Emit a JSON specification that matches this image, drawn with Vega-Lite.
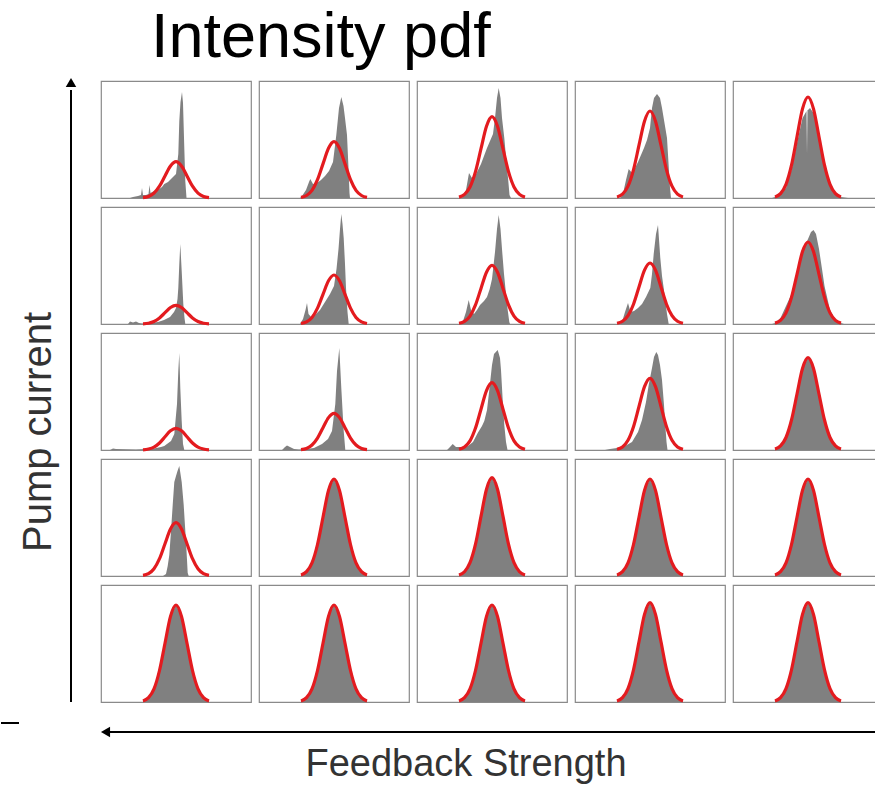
{
"$schema": "https://vega.github.io/schema/vega-lite/v6.json",
"padding": {"top": 6, "left": 0, "right": 0, "bottom": 0},
"background": "white",
"title": {"text": "Intensity pdf", "font": "Liberation Sans", "fontSize": 63, "fontWeight": "normal", "color": "#000000", "anchor": "start", "dx": 151, "offset": 8},
"config": {"view": {"stroke": "#8a8a8a", "strokeWidth": 1.2}},
"spacing": 4,
"vconcat": [
{"hconcat": [
{"width": 90, "height": 621, "view": {"stroke": null},
 "data": {"values": [{"axis": "Pump current"}]},
 "layer": [
  {"mark": {"type": "rule", "color": "#000000", "strokeWidth": 2},
   "encoding": {"x": {"datum": 70, "type": "quantitative", "scale": {"domain": [0, 90], "nice": false, "zero": false}, "axis": null},
                "y": {"datum": 0, "type": "quantitative", "scale": {"domain": [0, 621], "nice": false, "zero": false}, "axis": null},
                "y2": {"datum": 612}}},
  {"mark": {"type": "point", "shape": "triangle-up", "filled": true, "size": 110, "color": "#000000", "opacity": 1},
   "encoding": {"x": {"datum": 70, "type": "quantitative"}, "y": {"datum": 619.5, "type": "quantitative"}}},
  {"mark": {"type": "text", "angle": 270, "align": "center", "baseline": "alphabetic", "font": "Liberation Sans", "fontSize": 40, "color": "#333333"},
   "encoding": {"x": {"datum": 50, "type": "quantitative"}, "y": {"datum": 270, "type": "quantitative"}, "text": {"field": "axis"}}}
 ]},
{"data": {"values": [
{"pump":5,"fb":5,"x":-33,"fit":0.4},{"pump":5,"fb":5,"x":-27.5,"fit":1.6},{"pump":5,"fb":5,"x":-22,"fit":4.9},{"pump":5,"fb":5,"x":-16.5,"fit":11.8},{"pump":5,"fb":5,"x":-11,"fit":22.0},{"pump":5,"fb":5,"x":-5.5,"fit":32.0},{"pump":5,"fb":5,"x":0,"fit":36.3},{"pump":5,"fb":5,"x":5.5,"fit":32.0},{"pump":5,"fb":5,"x":11,"fit":22.0},{"pump":5,"fb":5,"x":16.5,"fit":11.8},{"pump":5,"fb":5,"x":22,"fit":4.9},{"pump":5,"fb":5,"x":27.5,"fit":1.6},{"pump":5,"fb":5,"x":33,"fit":0.4},
{"pump":5,"fb":4,"x":-33,"fit":0.6},{"pump":5,"fb":4,"x":-27.5,"fit":2.5},{"pump":5,"fb":4,"x":-22,"fit":7.6},{"pump":5,"fb":4,"x":-16.5,"fit":18.3},{"pump":5,"fb":4,"x":-11,"fit":34.1},{"pump":5,"fb":4,"x":-5.5,"fit":49.7},{"pump":5,"fb":4,"x":0,"fit":56.3},{"pump":5,"fb":4,"x":5.5,"fit":49.7},{"pump":5,"fb":4,"x":11,"fit":34.1},{"pump":5,"fb":4,"x":16.5,"fit":18.3},{"pump":5,"fb":4,"x":22,"fit":7.6},{"pump":5,"fb":4,"x":27.5,"fit":2.5},{"pump":5,"fb":4,"x":33,"fit":0.6},
{"pump":5,"fb":3,"x":-33,"fit":0.9},{"pump":5,"fb":3,"x":-27.5,"fit":3.6},{"pump":5,"fb":3,"x":-22,"fit":11.0},{"pump":5,"fb":3,"x":-16.5,"fit":26.4},{"pump":5,"fb":3,"x":-11,"fit":49.3},{"pump":5,"fb":3,"x":-5.5,"fit":71.7},{"pump":5,"fb":3,"x":0,"fit":81.3},{"pump":5,"fb":3,"x":5.5,"fit":71.7},{"pump":5,"fb":3,"x":11,"fit":49.3},{"pump":5,"fb":3,"x":16.5,"fit":26.4},{"pump":5,"fb":3,"x":22,"fit":11.0},{"pump":5,"fb":3,"x":27.5,"fit":3.6},{"pump":5,"fb":3,"x":33,"fit":0.9},
{"pump":5,"fb":2,"x":-33,"fit":1.0},{"pump":5,"fb":2,"x":-27.5,"fit":3.8},{"pump":5,"fb":2,"x":-22,"fit":11.8},{"pump":5,"fb":2,"x":-16.5,"fit":28.2},{"pump":5,"fb":2,"x":-11,"fit":52.8},{"pump":5,"fb":2,"x":-5.5,"fit":76.8},{"pump":5,"fb":2,"x":0,"fit":87},{"pump":5,"fb":2,"x":5.5,"fit":76.8},{"pump":5,"fb":2,"x":11,"fit":52.8},{"pump":5,"fb":2,"x":16.5,"fit":28.2},{"pump":5,"fb":2,"x":22,"fit":11.8},{"pump":5,"fb":2,"x":27.5,"fit":3.8},{"pump":5,"fb":2,"x":33,"fit":1.0},
{"pump":5,"fb":1,"x":-33,"fit":1.1},{"pump":5,"fb":1,"x":-27.5,"fit":4.4},{"pump":5,"fb":1,"x":-22,"fit":13.7},{"pump":5,"fb":1,"x":-16.5,"fit":32.8},{"pump":5,"fb":1,"x":-11,"fit":61.3},{"pump":5,"fb":1,"x":-5.5,"fit":89.1},{"pump":5,"fb":1,"x":0,"fit":101},{"pump":5,"fb":1,"x":5.5,"fit":89.1},{"pump":5,"fb":1,"x":11,"fit":61.3},{"pump":5,"fb":1,"x":16.5,"fit":32.8},{"pump":5,"fb":1,"x":22,"fit":13.7},{"pump":5,"fb":1,"x":27.5,"fit":4.4},{"pump":5,"fb":1,"x":33,"fit":1.1},
{"pump":4,"fb":5,"x":-33,"fit":0.2},{"pump":4,"fb":5,"x":-27.5,"fit":0.8},{"pump":4,"fb":5,"x":-22,"fit":2.5},{"pump":4,"fb":5,"x":-16.5,"fit":6.1},{"pump":4,"fb":5,"x":-11,"fit":11.3},{"pump":4,"fb":5,"x":-5.5,"fit":16.5},{"pump":4,"fb":5,"x":0,"fit":18.7},{"pump":4,"fb":5,"x":5.5,"fit":16.5},{"pump":4,"fb":5,"x":11,"fit":11.3},{"pump":4,"fb":5,"x":16.5,"fit":6.1},{"pump":4,"fb":5,"x":22,"fit":2.5},{"pump":4,"fb":5,"x":27.5,"fit":0.8},{"pump":4,"fb":5,"x":33,"fit":0.2},
{"pump":4,"fb":4,"x":-33,"fit":0.5},{"pump":4,"fb":4,"x":-27.5,"fit":2.2},{"pump":4,"fb":4,"x":-22,"fit":6.6},{"pump":4,"fb":4,"x":-16.5,"fit":15.9},{"pump":4,"fb":4,"x":-11,"fit":29.7},{"pump":4,"fb":4,"x":-5.5,"fit":43.2},{"pump":4,"fb":4,"x":0,"fit":49},{"pump":4,"fb":4,"x":5.5,"fit":43.2},{"pump":4,"fb":4,"x":11,"fit":29.7},{"pump":4,"fb":4,"x":16.5,"fit":15.9},{"pump":4,"fb":4,"x":22,"fit":6.6},{"pump":4,"fb":4,"x":27.5,"fit":2.2},{"pump":4,"fb":4,"x":33,"fit":0.5},
{"pump":4,"fb":3,"x":-33,"fit":0.7},{"pump":4,"fb":3,"x":-27.5,"fit":2.6},{"pump":4,"fb":3,"x":-22,"fit":7.9},{"pump":4,"fb":3,"x":-16.5,"fit":19.1},{"pump":4,"fb":3,"x":-11,"fit":35.6},{"pump":4,"fb":3,"x":-5.5,"fit":51.8},{"pump":4,"fb":3,"x":0,"fit":58.7},{"pump":4,"fb":3,"x":5.5,"fit":51.8},{"pump":4,"fb":3,"x":11,"fit":35.6},{"pump":4,"fb":3,"x":16.5,"fit":19.1},{"pump":4,"fb":3,"x":22,"fit":7.9},{"pump":4,"fb":3,"x":27.5,"fit":2.6},{"pump":4,"fb":3,"x":33,"fit":0.7},
{"pump":4,"fb":2,"x":-33,"fit":0.7},{"pump":4,"fb":2,"x":-27.5,"fit":2.7},{"pump":4,"fb":2,"x":-22,"fit":8.3},{"pump":4,"fb":2,"x":-16.5,"fit":19.8},{"pump":4,"fb":2,"x":-11,"fit":37.0},{"pump":4,"fb":2,"x":-5.5,"fit":53.8},{"pump":4,"fb":2,"x":0,"fit":61},{"pump":4,"fb":2,"x":5.5,"fit":53.8},{"pump":4,"fb":2,"x":11,"fit":37.0},{"pump":4,"fb":2,"x":16.5,"fit":19.8},{"pump":4,"fb":2,"x":22,"fit":8.3},{"pump":4,"fb":2,"x":27.5,"fit":2.7},{"pump":4,"fb":2,"x":33,"fit":0.7},
{"pump":4,"fb":1,"x":-33,"fit":0.9},{"pump":4,"fb":1,"x":-27.5,"fit":3.6},{"pump":4,"fb":1,"x":-22,"fit":11.1},{"pump":4,"fb":1,"x":-16.5,"fit":26.6},{"pump":4,"fb":1,"x":-11,"fit":49.7},{"pump":4,"fb":1,"x":-5.5,"fit":72.4},{"pump":4,"fb":1,"x":0,"fit":82},{"pump":4,"fb":1,"x":5.5,"fit":72.4},{"pump":4,"fb":1,"x":11,"fit":49.7},{"pump":4,"fb":1,"x":16.5,"fit":26.6},{"pump":4,"fb":1,"x":22,"fit":11.1},{"pump":4,"fb":1,"x":27.5,"fit":3.6},{"pump":4,"fb":1,"x":33,"fit":0.9},
{"pump":3,"fb":5,"x":-33,"fit":0.2},{"pump":3,"fb":5,"x":-27.5,"fit":1.0},{"pump":3,"fb":5,"x":-22,"fit":2.9},{"pump":3,"fb":5,"x":-16.5,"fit":7.0},{"pump":3,"fb":5,"x":-11,"fit":13.2},{"pump":3,"fb":5,"x":-5.5,"fit":19.2},{"pump":3,"fb":5,"x":0,"fit":21.7},{"pump":3,"fb":5,"x":5.5,"fit":19.2},{"pump":3,"fb":5,"x":11,"fit":13.2},{"pump":3,"fb":5,"x":16.5,"fit":7.0},{"pump":3,"fb":5,"x":22,"fit":2.9},{"pump":3,"fb":5,"x":27.5,"fit":1.0},{"pump":3,"fb":5,"x":33,"fit":0.2},
{"pump":3,"fb":4,"x":-33,"fit":0.4},{"pump":3,"fb":4,"x":-27.5,"fit":1.6},{"pump":3,"fb":4,"x":-22,"fit":5.0},{"pump":3,"fb":4,"x":-16.5,"fit":11.9},{"pump":3,"fb":4,"x":-11,"fit":22.3},{"pump":3,"fb":4,"x":-5.5,"fit":32.4},{"pump":3,"fb":4,"x":0,"fit":36.7},{"pump":3,"fb":4,"x":5.5,"fit":32.4},{"pump":3,"fb":4,"x":11,"fit":22.3},{"pump":3,"fb":4,"x":16.5,"fit":11.9},{"pump":3,"fb":4,"x":22,"fit":5.0},{"pump":3,"fb":4,"x":27.5,"fit":1.6},{"pump":3,"fb":4,"x":33,"fit":0.4},
{"pump":3,"fb":3,"x":-33,"fit":0.7},{"pump":3,"fb":3,"x":-27.5,"fit":3.0},{"pump":3,"fb":3,"x":-22,"fit":9.1},{"pump":3,"fb":3,"x":-16.5,"fit":21.9},{"pump":3,"fb":3,"x":-11,"fit":40.8},{"pump":3,"fb":3,"x":-5.5,"fit":59.4},{"pump":3,"fb":3,"x":0,"fit":67.3},{"pump":3,"fb":3,"x":5.5,"fit":59.4},{"pump":3,"fb":3,"x":11,"fit":40.8},{"pump":3,"fb":3,"x":16.5,"fit":21.9},{"pump":3,"fb":3,"x":22,"fit":9.1},{"pump":3,"fb":3,"x":27.5,"fit":3.0},{"pump":3,"fb":3,"x":33,"fit":0.7},
{"pump":3,"fb":2,"x":-33,"fit":0.8},{"pump":3,"fb":2,"x":-27.5,"fit":3.1},{"pump":3,"fb":2,"x":-22,"fit":9.7},{"pump":3,"fb":2,"x":-16.5,"fit":23.3},{"pump":3,"fb":2,"x":-11,"fit":43.5},{"pump":3,"fb":2,"x":-5.5,"fit":63.3},{"pump":3,"fb":2,"x":0,"fit":71.7},{"pump":3,"fb":2,"x":5.5,"fit":63.3},{"pump":3,"fb":2,"x":11,"fit":43.5},{"pump":3,"fb":2,"x":16.5,"fit":23.3},{"pump":3,"fb":2,"x":22,"fit":9.7},{"pump":3,"fb":2,"x":27.5,"fit":3.1},{"pump":3,"fb":2,"x":33,"fit":0.8},
{"pump":3,"fb":1,"x":-33,"fit":1.0,"hist":1.0},{"pump":3,"fb":1,"x":-27.5,"fit":4.1,"hist":4.1},{"pump":3,"fb":1,"x":-22,"fit":12.5,"hist":12.5},{"pump":3,"fb":1,"x":-16.5,"fit":30.0,"hist":30.0},{"pump":3,"fb":1,"x":-11,"fit":56.0,"hist":56.0},{"pump":3,"fb":1,"x":-5.5,"fit":81.5,"hist":81.5},{"pump":3,"fb":1,"x":0,"fit":92.3,"hist":92.3},{"pump":3,"fb":1,"x":5.5,"fit":81.5,"hist":81.5},{"pump":3,"fb":1,"x":11,"fit":56.0,"hist":56.0},{"pump":3,"fb":1,"x":16.5,"fit":30.0,"hist":30.0},{"pump":3,"fb":1,"x":22,"fit":12.5,"hist":12.5},{"pump":3,"fb":1,"x":27.5,"fit":4.1,"hist":4.1},{"pump":3,"fb":1,"x":33,"fit":1.0,"hist":1.0},
{"pump":2,"fb":5,"x":-33,"fit":0.6},{"pump":2,"fb":5,"x":-27.5,"fit":2.3},{"pump":2,"fb":5,"x":-22,"fit":7.2},{"pump":2,"fb":5,"x":-16.5,"fit":17.3},{"pump":2,"fb":5,"x":-11,"fit":32.3},{"pump":2,"fb":5,"x":-5.5,"fit":47.0},{"pump":2,"fb":5,"x":0,"fit":53.3},{"pump":2,"fb":5,"x":5.5,"fit":47.0},{"pump":2,"fb":5,"x":11,"fit":32.3},{"pump":2,"fb":5,"x":16.5,"fit":17.3},{"pump":2,"fb":5,"x":22,"fit":7.2},{"pump":2,"fb":5,"x":27.5,"fit":2.3},{"pump":2,"fb":5,"x":33,"fit":0.6},
{"pump":2,"fb":4,"x":-33,"fit":1.1,"hist":1.1},{"pump":2,"fb":4,"x":-27.5,"fit":4.3,"hist":4.3},{"pump":2,"fb":4,"x":-22,"fit":13.1,"hist":13.1},{"pump":2,"fb":4,"x":-16.5,"fit":31.5,"hist":31.5},{"pump":2,"fb":4,"x":-11,"fit":58.8,"hist":58.8},{"pump":2,"fb":4,"x":-5.5,"fit":85.6,"hist":85.6},{"pump":2,"fb":4,"x":0,"fit":97,"hist":97},{"pump":2,"fb":4,"x":5.5,"fit":85.6,"hist":85.6},{"pump":2,"fb":4,"x":11,"fit":58.8,"hist":58.8},{"pump":2,"fb":4,"x":16.5,"fit":31.5,"hist":31.5},{"pump":2,"fb":4,"x":22,"fit":13.1,"hist":13.1},{"pump":2,"fb":4,"x":27.5,"fit":4.3,"hist":4.3},{"pump":2,"fb":4,"x":33,"fit":1.1,"hist":1.1},
{"pump":2,"fb":3,"x":-33,"fit":1.1,"hist":1.1},{"pump":2,"fb":3,"x":-27.5,"fit":4.3,"hist":4.3},{"pump":2,"fb":3,"x":-22,"fit":13.3,"hist":13.3},{"pump":2,"fb":3,"x":-16.5,"fit":31.9,"hist":31.9},{"pump":2,"fb":3,"x":-11,"fit":59.6,"hist":59.6},{"pump":2,"fb":3,"x":-5.5,"fit":86.8,"hist":86.8},{"pump":2,"fb":3,"x":0,"fit":98.3,"hist":98.3},{"pump":2,"fb":3,"x":5.5,"fit":86.8,"hist":86.8},{"pump":2,"fb":3,"x":11,"fit":59.6,"hist":59.6},{"pump":2,"fb":3,"x":16.5,"fit":31.9,"hist":31.9},{"pump":2,"fb":3,"x":22,"fit":13.3,"hist":13.3},{"pump":2,"fb":3,"x":27.5,"fit":4.3,"hist":4.3},{"pump":2,"fb":3,"x":33,"fit":1.1,"hist":1.1},
{"pump":2,"fb":2,"x":-33,"fit":1.1,"hist":1.1},{"pump":2,"fb":2,"x":-27.5,"fit":4.3,"hist":4.3},{"pump":2,"fb":2,"x":-22,"fit":13.1,"hist":13.1},{"pump":2,"fb":2,"x":-16.5,"fit":31.5,"hist":31.5},{"pump":2,"fb":2,"x":-11,"fit":58.8,"hist":58.8},{"pump":2,"fb":2,"x":-5.5,"fit":85.6,"hist":85.6},{"pump":2,"fb":2,"x":0,"fit":97,"hist":97},{"pump":2,"fb":2,"x":5.5,"fit":85.6,"hist":85.6},{"pump":2,"fb":2,"x":11,"fit":58.8,"hist":58.8},{"pump":2,"fb":2,"x":16.5,"fit":31.5,"hist":31.5},{"pump":2,"fb":2,"x":22,"fit":13.1,"hist":13.1},{"pump":2,"fb":2,"x":27.5,"fit":4.3,"hist":4.3},{"pump":2,"fb":2,"x":33,"fit":1.1,"hist":1.1},
{"pump":2,"fb":1,"x":-33,"fit":1.1,"hist":1.1},{"pump":2,"fb":1,"x":-27.5,"fit":4.3,"hist":4.3},{"pump":2,"fb":1,"x":-22,"fit":13.1,"hist":13.1},{"pump":2,"fb":1,"x":-16.5,"fit":31.5,"hist":31.5},{"pump":2,"fb":1,"x":-11,"fit":58.8,"hist":58.8},{"pump":2,"fb":1,"x":-5.5,"fit":85.6,"hist":85.6},{"pump":2,"fb":1,"x":0,"fit":97,"hist":97},{"pump":2,"fb":1,"x":5.5,"fit":85.6,"hist":85.6},{"pump":2,"fb":1,"x":11,"fit":58.8,"hist":58.8},{"pump":2,"fb":1,"x":16.5,"fit":31.5,"hist":31.5},{"pump":2,"fb":1,"x":22,"fit":13.1,"hist":13.1},{"pump":2,"fb":1,"x":27.5,"fit":4.3,"hist":4.3},{"pump":2,"fb":1,"x":33,"fit":1.1,"hist":1.1},
{"pump":1,"fb":5,"x":-33,"fit":1.1,"hist":1.1},{"pump":1,"fb":5,"x":-27.5,"fit":4.3,"hist":4.3},{"pump":1,"fb":5,"x":-22,"fit":13.1,"hist":13.1},{"pump":1,"fb":5,"x":-16.5,"fit":31.5,"hist":31.5},{"pump":1,"fb":5,"x":-11,"fit":58.8,"hist":58.8},{"pump":1,"fb":5,"x":-5.5,"fit":85.6,"hist":85.6},{"pump":1,"fb":5,"x":0,"fit":97,"hist":97},{"pump":1,"fb":5,"x":5.5,"fit":85.6,"hist":85.6},{"pump":1,"fb":5,"x":11,"fit":58.8,"hist":58.8},{"pump":1,"fb":5,"x":16.5,"fit":31.5,"hist":31.5},{"pump":1,"fb":5,"x":22,"fit":13.1,"hist":13.1},{"pump":1,"fb":5,"x":27.5,"fit":4.3,"hist":4.3},{"pump":1,"fb":5,"x":33,"fit":1.1,"hist":1.1},
{"pump":1,"fb":4,"x":-33,"fit":1.1,"hist":1.1},{"pump":1,"fb":4,"x":-27.5,"fit":4.3,"hist":4.3},{"pump":1,"fb":4,"x":-22,"fit":13.1,"hist":13.1},{"pump":1,"fb":4,"x":-16.5,"fit":31.5,"hist":31.5},{"pump":1,"fb":4,"x":-11,"fit":58.8,"hist":58.8},{"pump":1,"fb":4,"x":-5.5,"fit":85.6,"hist":85.6},{"pump":1,"fb":4,"x":0,"fit":97,"hist":97},{"pump":1,"fb":4,"x":5.5,"fit":85.6,"hist":85.6},{"pump":1,"fb":4,"x":11,"fit":58.8,"hist":58.8},{"pump":1,"fb":4,"x":16.5,"fit":31.5,"hist":31.5},{"pump":1,"fb":4,"x":22,"fit":13.1,"hist":13.1},{"pump":1,"fb":4,"x":27.5,"fit":4.3,"hist":4.3},{"pump":1,"fb":4,"x":33,"fit":1.1,"hist":1.1},
{"pump":1,"fb":3,"x":-33,"fit":1.1,"hist":1.1},{"pump":1,"fb":3,"x":-27.5,"fit":4.3,"hist":4.3},{"pump":1,"fb":3,"x":-22,"fit":13.1,"hist":13.1},{"pump":1,"fb":3,"x":-16.5,"fit":31.5,"hist":31.5},{"pump":1,"fb":3,"x":-11,"fit":58.8,"hist":58.8},{"pump":1,"fb":3,"x":-5.5,"fit":85.6,"hist":85.6},{"pump":1,"fb":3,"x":0,"fit":97,"hist":97},{"pump":1,"fb":3,"x":5.5,"fit":85.6,"hist":85.6},{"pump":1,"fb":3,"x":11,"fit":58.8,"hist":58.8},{"pump":1,"fb":3,"x":16.5,"fit":31.5,"hist":31.5},{"pump":1,"fb":3,"x":22,"fit":13.1,"hist":13.1},{"pump":1,"fb":3,"x":27.5,"fit":4.3,"hist":4.3},{"pump":1,"fb":3,"x":33,"fit":1.1,"hist":1.1},
{"pump":1,"fb":2,"x":-33,"fit":1.1,"hist":1.1},{"pump":1,"fb":2,"x":-27.5,"fit":4.4,"hist":4.4},{"pump":1,"fb":2,"x":-22,"fit":13.4,"hist":13.4},{"pump":1,"fb":2,"x":-16.5,"fit":32.2,"hist":32.2},{"pump":1,"fb":2,"x":-11,"fit":60.2,"hist":60.2},{"pump":1,"fb":2,"x":-5.5,"fit":87.6,"hist":87.6},{"pump":1,"fb":2,"x":0,"fit":99.3,"hist":99.3},{"pump":1,"fb":2,"x":5.5,"fit":87.6,"hist":87.6},{"pump":1,"fb":2,"x":11,"fit":60.2,"hist":60.2},{"pump":1,"fb":2,"x":16.5,"fit":32.2,"hist":32.2},{"pump":1,"fb":2,"x":22,"fit":13.4,"hist":13.4},{"pump":1,"fb":2,"x":27.5,"fit":4.4,"hist":4.4},{"pump":1,"fb":2,"x":33,"fit":1.1,"hist":1.1},
{"pump":1,"fb":1,"x":-33,"fit":1.1,"hist":1.1},{"pump":1,"fb":1,"x":-27.5,"fit":4.4,"hist":4.4},{"pump":1,"fb":1,"x":-22,"fit":13.4,"hist":13.4},{"pump":1,"fb":1,"x":-16.5,"fit":32.2,"hist":32.2},{"pump":1,"fb":1,"x":-11,"fit":60.2,"hist":60.2},{"pump":1,"fb":1,"x":-5.5,"fit":87.6,"hist":87.6},{"pump":1,"fb":1,"x":0,"fit":99.3,"hist":99.3},{"pump":1,"fb":1,"x":5.5,"fit":87.6,"hist":87.6},{"pump":1,"fb":1,"x":11,"fit":60.2,"hist":60.2},{"pump":1,"fb":1,"x":16.5,"fit":32.2,"hist":32.2},{"pump":1,"fb":1,"x":22,"fit":13.4,"hist":13.4},{"pump":1,"fb":1,"x":27.5,"fit":4.4,"hist":4.4},{"pump":1,"fb":1,"x":33,"fit":1.1,"hist":1.1},

{"pump":5,"fb":5,"x":-46,"hist":0},{"pump":5,"fb":5,"x":-43,"hist":1},{"pump":5,"fb":5,"x":-38,"hist":2},{"pump":5,"fb":5,"x":-35,"hist":3},{"pump":5,"fb":5,"x":-34,"hist":10},{"pump":5,"fb":5,"x":-33,"hist":3},{"pump":5,"fb":5,"x":-30,"hist":3},{"pump":5,"fb":5,"x":-27.5,"hist":4},{"pump":5,"fb":5,"x":-26.5,"hist":13},{"pump":5,"fb":5,"x":-25.5,"hist":5},{"pump":5,"fb":5,"x":-22,"hist":7},{"pump":5,"fb":5,"x":-18,"hist":8},{"pump":5,"fb":5,"x":-14,"hist":11},{"pump":5,"fb":5,"x":-11.7,"hist":14},{"pump":5,"fb":5,"x":-8,"hist":16},{"pump":5,"fb":5,"x":-4,"hist":20},{"pump":5,"fb":5,"x":0,"hist":24},{"pump":5,"fb":5,"x":2.3,"hist":44},{"pump":5,"fb":5,"x":3.3,"hist":77},{"pump":5,"fb":5,"x":4.5,"hist":96},{"pump":5,"fb":5,"x":6,"hist":106},{"pump":5,"fb":5,"x":7,"hist":95},{"pump":5,"fb":5,"x":8.3,"hist":50},{"pump":5,"fb":5,"x":9.3,"hist":17},{"pump":5,"fb":5,"x":10.5,"hist":0},
{"pump":5,"fb":4,"x":-34,"hist":0},{"pump":5,"fb":4,"x":-32,"hist":2},{"pump":5,"fb":4,"x":-28,"hist":8},{"pump":5,"fb":4,"x":-25,"hist":16},{"pump":5,"fb":4,"x":-23.7,"hist":19},{"pump":5,"fb":4,"x":-21,"hist":14},{"pump":5,"fb":4,"x":-17,"hist":15},{"pump":5,"fb":4,"x":-13,"hist":18},{"pump":5,"fb":4,"x":-9,"hist":22},{"pump":5,"fb":4,"x":-5,"hist":27},{"pump":5,"fb":4,"x":-1,"hist":36},{"pump":5,"fb":4,"x":2.3,"hist":63},{"pump":5,"fb":4,"x":5,"hist":90},{"pump":5,"fb":4,"x":7.3,"hist":101},{"pump":5,"fb":4,"x":9.5,"hist":92},{"pump":5,"fb":4,"x":11,"hist":80},{"pump":5,"fb":4,"x":13,"hist":63},{"pump":5,"fb":4,"x":14.5,"hist":30},{"pump":5,"fb":4,"x":15.5,"hist":5},{"pump":5,"fb":4,"x":16,"hist":0},
{"pump":5,"fb":3,"x":-33,"hist":0},{"pump":5,"fb":3,"x":-29,"hist":1},{"pump":5,"fb":3,"x":-26,"hist":8},{"pump":5,"fb":3,"x":-23,"hist":25},{"pump":5,"fb":3,"x":-20,"hist":20},{"pump":5,"fb":3,"x":-17,"hist":22},{"pump":5,"fb":3,"x":-14,"hist":28},{"pump":5,"fb":3,"x":-11,"hist":34},{"pump":5,"fb":3,"x":-8,"hist":42},{"pump":5,"fb":3,"x":-5,"hist":50},{"pump":5,"fb":3,"x":-2,"hist":57},{"pump":5,"fb":3,"x":1,"hist":64},{"pump":5,"fb":3,"x":3,"hist":80},{"pump":5,"fb":3,"x":5,"hist":100},{"pump":5,"fb":3,"x":6.7,"hist":110},{"pump":5,"fb":3,"x":8.5,"hist":100},{"pump":5,"fb":3,"x":10,"hist":80},{"pump":5,"fb":3,"x":12.3,"hist":60},{"pump":5,"fb":3,"x":14.5,"hist":35},{"pump":5,"fb":3,"x":16.3,"hist":17},{"pump":5,"fb":3,"x":17.5,"hist":3},{"pump":5,"fb":3,"x":19,"hist":0},
{"pump":5,"fb":2,"x":-30,"hist":0},{"pump":5,"fb":2,"x":-27.3,"hist":3},{"pump":5,"fb":2,"x":-24,"hist":18},{"pump":5,"fb":2,"x":-21.3,"hist":29},{"pump":5,"fb":2,"x":-18,"hist":25},{"pump":5,"fb":2,"x":-15,"hist":30},{"pump":5,"fb":2,"x":-12,"hist":36},{"pump":5,"fb":2,"x":-9,"hist":43},{"pump":5,"fb":2,"x":-6,"hist":50},{"pump":5,"fb":2,"x":-3,"hist":58},{"pump":5,"fb":2,"x":0,"hist":70},{"pump":5,"fb":2,"x":2,"hist":90},{"pump":5,"fb":2,"x":4,"hist":100},{"pump":5,"fb":2,"x":7,"hist":104},{"pump":5,"fb":2,"x":10,"hist":100},{"pump":5,"fb":2,"x":12,"hist":90},{"pump":5,"fb":2,"x":14.5,"hist":75},{"pump":5,"fb":2,"x":17,"hist":60},{"pump":5,"fb":2,"x":18.5,"hist":35},{"pump":5,"fb":2,"x":20,"hist":10},{"pump":5,"fb":2,"x":21,"hist":0},
{"pump":5,"fb":1,"x":-36,"hist":0},{"pump":5,"fb":1,"x":-33,"hist":1},{"pump":5,"fb":1,"x":-27.5,"hist":3},{"pump":5,"fb":1,"x":-22,"hist":10},{"pump":5,"fb":1,"x":-16.5,"hist":28},{"pump":5,"fb":1,"x":-11,"hist":55},{"pump":5,"fb":1,"x":-5.5,"hist":80},{"pump":5,"fb":1,"x":-2,"hist":86},{"pump":5,"fb":1,"x":-1.5,"hist":87},{"pump":5,"fb":1,"x":-1,"hist":44},{"pump":5,"fb":1,"x":-0.5,"hist":88},{"pump":5,"fb":1,"x":0,"hist":88},{"pump":5,"fb":1,"x":2,"hist":90},{"pump":5,"fb":1,"x":5.5,"hist":85},{"pump":5,"fb":1,"x":11,"hist":62},{"pump":5,"fb":1,"x":16.5,"hist":33},{"pump":5,"fb":1,"x":22,"hist":13},{"pump":5,"fb":1,"x":27.5,"hist":4},{"pump":5,"fb":1,"x":33,"hist":1},{"pump":5,"fb":1,"x":40,"hist":0},
{"pump":4,"fb":5,"x":-48,"hist":0},{"pump":4,"fb":5,"x":-46,"hist":2.5},{"pump":4,"fb":5,"x":-43,"hist":1.5},{"pump":4,"fb":5,"x":-40,"hist":2.5},{"pump":4,"fb":5,"x":-37,"hist":1},{"pump":4,"fb":5,"x":-34,"hist":0.5},{"pump":4,"fb":5,"x":-25,"hist":1},{"pump":4,"fb":5,"x":-18,"hist":2},{"pump":4,"fb":5,"x":-12,"hist":4},{"pump":4,"fb":5,"x":-6,"hist":7},{"pump":4,"fb":5,"x":-2,"hist":12},{"pump":4,"fb":5,"x":0,"hist":16},{"pump":4,"fb":5,"x":1.5,"hist":25},{"pump":4,"fb":5,"x":2.3,"hist":36},{"pump":4,"fb":5,"x":3.3,"hist":60},{"pump":4,"fb":5,"x":4.3,"hist":80},{"pump":4,"fb":5,"x":5.7,"hist":53},{"pump":4,"fb":5,"x":7.3,"hist":20},{"pump":4,"fb":5,"x":8.5,"hist":6},{"pump":4,"fb":5,"x":9.3,"hist":0},
{"pump":4,"fb":4,"x":-34,"hist":0},{"pump":4,"fb":4,"x":-31,"hist":5},{"pump":4,"fb":4,"x":-28.5,"hist":14},{"pump":4,"fb":4,"x":-27,"hist":21},{"pump":4,"fb":4,"x":-25.5,"hist":10},{"pump":4,"fb":4,"x":-22,"hist":6},{"pump":4,"fb":4,"x":-18,"hist":10},{"pump":4,"fb":4,"x":-14,"hist":14},{"pump":4,"fb":4,"x":-9,"hist":22},{"pump":4,"fb":4,"x":-4,"hist":30},{"pump":4,"fb":4,"x":0,"hist":38},{"pump":4,"fb":4,"x":2.5,"hist":55},{"pump":4,"fb":4,"x":4.5,"hist":75},{"pump":4,"fb":4,"x":6,"hist":95},{"pump":4,"fb":4,"x":7.3,"hist":110},{"pump":4,"fb":4,"x":8.5,"hist":100},{"pump":4,"fb":4,"x":9.7,"hist":86},{"pump":4,"fb":4,"x":11,"hist":60},{"pump":4,"fb":4,"x":12,"hist":36},{"pump":4,"fb":4,"x":13.5,"hist":12},{"pump":4,"fb":4,"x":14.7,"hist":0},
{"pump":4,"fb":3,"x":-31,"hist":0},{"pump":4,"fb":3,"x":-29.3,"hist":2},{"pump":4,"fb":3,"x":-26,"hist":12},{"pump":4,"fb":3,"x":-23.3,"hist":24},{"pump":4,"fb":3,"x":-21,"hist":14},{"pump":4,"fb":3,"x":-18,"hist":10},{"pump":4,"fb":3,"x":-15,"hist":14},{"pump":4,"fb":3,"x":-12,"hist":19},{"pump":4,"fb":3,"x":-8,"hist":23},{"pump":4,"fb":3,"x":-5,"hist":27},{"pump":4,"fb":3,"x":-2.3,"hist":35},{"pump":4,"fb":3,"x":0,"hist":45},{"pump":4,"fb":3,"x":3,"hist":72},{"pump":4,"fb":3,"x":5,"hist":95},{"pump":4,"fb":3,"x":6.7,"hist":109},{"pump":4,"fb":3,"x":8.5,"hist":95},{"pump":4,"fb":3,"x":10,"hist":75},{"pump":4,"fb":3,"x":12,"hist":50},{"pump":4,"fb":3,"x":14,"hist":30},{"pump":4,"fb":3,"x":15.7,"hist":14},{"pump":4,"fb":3,"x":17.3,"hist":2},{"pump":4,"fb":3,"x":18,"hist":0},
{"pump":4,"fb":2,"x":-30,"hist":0},{"pump":4,"fb":2,"x":-28,"hist":2},{"pump":4,"fb":2,"x":-25,"hist":12},{"pump":4,"fb":2,"x":-22,"hist":21},{"pump":4,"fb":2,"x":-19.5,"hist":12},{"pump":4,"fb":2,"x":-16,"hist":13},{"pump":4,"fb":2,"x":-12,"hist":16},{"pump":4,"fb":2,"x":-8,"hist":20},{"pump":4,"fb":2,"x":-4,"hist":27},{"pump":4,"fb":2,"x":0.3,"hist":36},{"pump":4,"fb":2,"x":2,"hist":50},{"pump":4,"fb":2,"x":3.7,"hist":70},{"pump":4,"fb":2,"x":6,"hist":90},{"pump":4,"fb":2,"x":8,"hist":99},{"pump":4,"fb":2,"x":10.3,"hist":66},{"pump":4,"fb":2,"x":12,"hist":48},{"pump":4,"fb":2,"x":13.7,"hist":36},{"pump":4,"fb":2,"x":15.5,"hist":22},{"pump":4,"fb":2,"x":17,"hist":10},{"pump":4,"fb":2,"x":18.7,"hist":0},
{"pump":4,"fb":1,"x":-36,"hist":0},{"pump":4,"fb":1,"x":-33,"hist":1},{"pump":4,"fb":1,"x":-27.5,"hist":6},{"pump":4,"fb":1,"x":-22,"hist":18},{"pump":4,"fb":1,"x":-16.5,"hist":30},{"pump":4,"fb":1,"x":-11,"hist":50},{"pump":4,"fb":1,"x":-5.5,"hist":72},{"pump":4,"fb":1,"x":0,"hist":85},{"pump":4,"fb":1,"x":3,"hist":92},{"pump":4,"fb":1,"x":5.5,"hist":94},{"pump":4,"fb":1,"x":8,"hist":90},{"pump":4,"fb":1,"x":11,"hist":75},{"pump":4,"fb":1,"x":14,"hist":55},{"pump":4,"fb":1,"x":16.5,"hist":38},{"pump":4,"fb":1,"x":22,"hist":14},{"pump":4,"fb":1,"x":27.5,"hist":4},{"pump":4,"fb":1,"x":33,"hist":1},{"pump":4,"fb":1,"x":36,"hist":0},
{"pump":3,"fb":5,"x":-66,"hist":0},{"pump":3,"fb":5,"x":-63,"hist":1.5},{"pump":3,"fb":5,"x":-60,"hist":1},{"pump":3,"fb":5,"x":-50,"hist":0.7},{"pump":3,"fb":5,"x":-40,"hist":0.5},{"pump":3,"fb":5,"x":-30,"hist":1},{"pump":3,"fb":5,"x":-22,"hist":1.5},{"pump":3,"fb":5,"x":-15,"hist":3},{"pump":3,"fb":5,"x":-11.7,"hist":4},{"pump":3,"fb":5,"x":-5,"hist":9},{"pump":3,"fb":5,"x":-1.7,"hist":16},{"pump":3,"fb":5,"x":1,"hist":46},{"pump":3,"fb":5,"x":2.3,"hist":79},{"pump":3,"fb":5,"x":3.3,"hist":97},{"pump":3,"fb":5,"x":4.3,"hist":62},{"pump":3,"fb":5,"x":5.7,"hist":29},{"pump":3,"fb":5,"x":7,"hist":6},{"pump":3,"fb":5,"x":8.3,"hist":0},
{"pump":3,"fb":4,"x":-52,"hist":0},{"pump":3,"fb":4,"x":-49,"hist":3},{"pump":3,"fb":4,"x":-47,"hist":4.5},{"pump":3,"fb":4,"x":-44,"hist":3},{"pump":3,"fb":4,"x":-40,"hist":1},{"pump":3,"fb":4,"x":-35,"hist":0.5},{"pump":3,"fb":4,"x":-28,"hist":1},{"pump":3,"fb":4,"x":-20,"hist":2},{"pump":3,"fb":4,"x":-12,"hist":6},{"pump":3,"fb":4,"x":-6,"hist":11},{"pump":3,"fb":4,"x":-2,"hist":19},{"pump":3,"fb":4,"x":1.3,"hist":46},{"pump":3,"fb":4,"x":3,"hist":79},{"pump":3,"fb":4,"x":5.3,"hist":102},{"pump":3,"fb":4,"x":7.3,"hist":62},{"pump":3,"fb":4,"x":9.7,"hist":19},{"pump":3,"fb":4,"x":11.3,"hist":0},
{"pump":3,"fb":3,"x":-45,"hist":0},{"pump":3,"fb":3,"x":-42,"hist":3},{"pump":3,"fb":3,"x":-39.3,"hist":6},{"pump":3,"fb":3,"x":-36,"hist":3},{"pump":3,"fb":3,"x":-30,"hist":3},{"pump":3,"fb":3,"x":-24,"hist":4},{"pump":3,"fb":3,"x":-19,"hist":8},{"pump":3,"fb":3,"x":-14.3,"hist":17},{"pump":3,"fb":3,"x":-10,"hist":24},{"pump":3,"fb":3,"x":-7.7,"hist":29},{"pump":3,"fb":3,"x":-5,"hist":40},{"pump":3,"fb":3,"x":-2.7,"hist":60},{"pump":3,"fb":3,"x":0,"hist":85},{"pump":3,"fb":3,"x":2,"hist":96},{"pump":3,"fb":3,"x":5.7,"hist":100},{"pump":3,"fb":3,"x":8,"hist":92},{"pump":3,"fb":3,"x":9,"hist":80},{"pump":3,"fb":3,"x":10.7,"hist":50},{"pump":3,"fb":3,"x":12.3,"hist":25},{"pump":3,"fb":3,"x":14,"hist":8},{"pump":3,"fb":3,"x":15.5,"hist":0},
{"pump":3,"fb":2,"x":-45,"hist":0},{"pump":3,"fb":2,"x":-40,"hist":1},{"pump":3,"fb":2,"x":-33,"hist":2},{"pump":3,"fb":2,"x":-25,"hist":4},{"pump":3,"fb":2,"x":-18,"hist":8},{"pump":3,"fb":2,"x":-12,"hist":18},{"pump":3,"fb":2,"x":-8,"hist":30},{"pump":3,"fb":2,"x":-4,"hist":48},{"pump":3,"fb":2,"x":-1.3,"hist":65},{"pump":3,"fb":2,"x":2,"hist":82},{"pump":3,"fb":2,"x":4,"hist":93},{"pump":3,"fb":2,"x":6.3,"hist":98},{"pump":3,"fb":2,"x":8,"hist":95},{"pump":3,"fb":2,"x":10,"hist":85},{"pump":3,"fb":2,"x":12,"hist":70},{"pump":3,"fb":2,"x":14,"hist":45},{"pump":3,"fb":2,"x":15.3,"hist":25},{"pump":3,"fb":2,"x":16.5,"hist":8},{"pump":3,"fb":2,"x":17.5,"hist":0},
{"pump":2,"fb":5,"x":-13,"hist":0},{"pump":2,"fb":5,"x":-10,"hist":2},{"pump":2,"fb":5,"x":-8.3,"hist":10},{"pump":2,"fb":5,"x":-6.7,"hist":21},{"pump":2,"fb":5,"x":-5,"hist":45},{"pump":2,"fb":5,"x":-3.3,"hist":71},{"pump":2,"fb":5,"x":-1.7,"hist":94},{"pump":2,"fb":5,"x":0,"hist":100},{"pump":2,"fb":5,"x":1.5,"hist":105},{"pump":2,"fb":5,"x":3.3,"hist":110},{"pump":2,"fb":5,"x":4.5,"hist":102},{"pump":2,"fb":5,"x":5.7,"hist":94},{"pump":2,"fb":5,"x":7.7,"hist":71},{"pump":2,"fb":5,"x":9,"hist":50},{"pump":2,"fb":5,"x":10,"hist":35},{"pump":2,"fb":5,"x":11.7,"hist":3},{"pump":2,"fb":5,"x":12.7,"hist":0}
]},
 "facet": {"row": {"field": "pump", "type": "ordinal", "sort": "descending", "header": {"labels": false, "title": null, "labelPadding": 0, "titlePadding": 0}, "title": null},
           "column": {"field": "fb", "type": "ordinal", "sort": "descending", "header": {"labels": false, "title": null, "labelPadding": 0, "titlePadding": 0}, "title": null}},
 "spacing": {"row": 9, "column": 8},
 "bounds": "flush",
 "spec": {
  "width": 150, "height": 117,
  "layer": [
   {"transform": [{"filter": "isValid(datum.hist)"}],
    "mark": {"type": "area", "color": "#808080", "interpolate": "linear"},
    "encoding": {"x": {"field": "x", "type": "quantitative", "scale": {"domain": [-75, 75], "nice": false, "zero": false}, "axis": null},
                 "y": {"field": "hist", "type": "quantitative", "scale": {"domain": [0, 117], "nice": false}, "axis": null}}},
   {"transform": [{"filter": "isValid(datum.fit)"}],
    "mark": {"type": "line", "color": "#e31b1f", "strokeWidth": 3.2, "interpolate": "monotone"},
    "encoding": {"x": {"field": "x", "type": "quantitative", "axis": null},
                 "y": {"field": "fit", "type": "quantitative", "axis": null}}}
  ]
 }}
], "spacing": 10, "bounds": "flush"},
{"width": 882, "height": 40, "view": {"stroke": null},
 "data": {"values": [{"axis": "Feedback Strength"}]},
 "layer": [
  {"mark": {"type": "rule", "color": "#000000", "strokeWidth": 2},
   "encoding": {"x": {"datum": 104, "type": "quantitative", "scale": {"domain": [0, 882], "nice": false, "zero": false}, "axis": null},
                "x2": {"datum": 882},
                "y": {"datum": 20, "type": "quantitative", "scale": {"domain": [0, 40], "nice": false, "zero": false}, "axis": null}}},
  {"mark": {"type": "rule", "color": "#000000", "strokeWidth": 2},
   "encoding": {"x": {"datum": 0, "type": "quantitative"}, "x2": {"datum": 18}, "y": {"datum": 29, "type": "quantitative"}}},
  {"mark": {"type": "point", "shape": "triangle-left", "filled": true, "size": 110, "color": "#000000", "opacity": 1},
   "encoding": {"x": {"datum": 104.5, "type": "quantitative"}, "y": {"datum": 20, "type": "quantitative"}}},
  {"mark": {"type": "text", "align": "center", "baseline": "alphabetic", "font": "Liberation Sans", "fontSize": 38, "color": "#333333"},
   "encoding": {"x": {"datum": 465, "type": "quantitative"}, "y": {"datum": -24, "type": "quantitative"}, "text": {"field": "axis"}}}
 ]}
]
}
